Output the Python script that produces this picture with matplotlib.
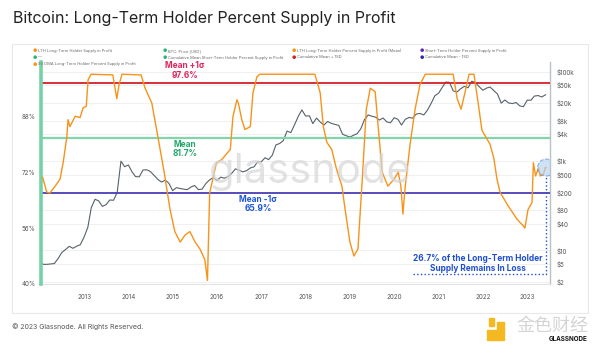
import matplotlib.pyplot as plt
from matplotlib.patches import Rectangle
from matplotlib.ticker import NullLocator
import pandas as pd

plt.rcParams['font.family'] = ['Inter', 'DejaVu Sans']

# BTC price, monthly (USD), Jan 2012 .. Jun 2023
price_months = pd.date_range('2012-01-01', '2023-06-01', freq='MS')
btc_price = [
    5.5, 4.9, 4.9, 5.0, 5.1, 6.6, 9.0, 10.5, 12.4, 11.2, 12.5, 13.5,
    20, 33, 90, 140, 129, 97, 106, 135, 133, 200, 1000, 750,
    820, 570, 450, 445, 630, 640, 585, 480, 390, 340, 375, 320,
    218, 255, 245, 236, 230, 263, 285, 230, 237, 314, 378, 430,
    370, 437, 416, 448, 530, 670, 625, 575, 610, 700, 742, 960,
    970, 1190, 1080, 1350, 2300, 2480, 2880, 4700, 4340, 6450, 10000, 14000,
    10200, 10300, 6900, 9200, 7500, 6400, 7700, 7000, 6600, 6300, 4000, 3700,
    3450, 3800, 4100, 5300, 8500, 10800, 10100, 9600, 8300, 9200, 7550, 7200,
    9350, 8600, 6400, 8600, 9450, 9150, 11300, 11650, 10800, 13800, 19700, 29000,
    33100, 45200, 58800, 57700, 37300, 35000, 41500, 47100, 43800, 61300, 57000, 46300,
    38500, 43200, 45500, 37700, 31800, 19800, 23300, 20000, 19400, 20500, 17200, 16500,
    23100, 23100, 28500, 29300, 27200, 30500,
]

# Long-term holder percent supply in profit (%)
lth_dates = [
    '2012-01-26', '2012-02-28', '2012-03-25', '2012-05-08', '2012-06-17', '2012-07-13',
    '2012-08-11', '2012-08-22', '2012-09-06', '2012-10-20', '2012-11-29', '2012-12-24',
    '2013-01-19', '2013-02-03', '2013-02-28', '2013-08-26', '2013-09-13', '2013-09-28',
    '2013-10-16', '2013-11-10', '2014-04-16', '2014-05-19', '2014-07-13', '2014-09-02',
    '2014-10-23', '2014-12-10', '2015-01-19', '2015-03-04', '2015-04-13', '2015-05-23',
    '2015-07-05', '2015-08-14', '2015-09-23', '2015-10-15', '2015-11-02', '2015-12-28',
    '2016-02-10', '2016-04-20', '2016-05-12', '2016-06-14', '2016-06-25', '2016-07-24',
    '2016-08-19', '2016-10-02', '2016-10-24', '2016-11-26', '2016-12-20', '2018-03-18',
    '2018-05-01', '2018-05-27', '2018-06-25', '2018-08-04', '2018-09-13', '2018-10-27',
    '2018-11-22', '2019-01-01', '2019-02-03', '2019-03-08', '2019-04-13', '2019-05-16',
    '2019-06-18', '2019-07-28', '2019-08-22', '2019-09-24', '2019-11-10', '2020-01-01',
    '2020-02-03', '2020-02-25', '2020-03-13', '2020-03-22', '2020-04-01', '2020-05-11',
    '2020-06-21', '2020-07-31', '2020-09-13', '2021-05-01', '2021-06-03', '2021-07-05',
    '2021-08-08', '2021-09-09', '2021-10-19', '2021-11-22', '2021-12-24', '2022-01-26',
    '2022-02-28', '2022-04-01', '2022-04-27', '2022-05-23', '2022-07-27', '2022-10-08',
    '2022-11-28', '2022-12-13', '2023-01-08', '2023-02-10', '2023-02-21', '2023-03-11',
    '2023-04-05', '2023-04-19', '2023-05-15', '2023-05-30', '2023-06-06',
]
lth_profit = [
    70.5, 66.3, 66.0, 68.0, 70.0, 74.8,
    81.9, 87.0, 85.0, 88.0, 87.6, 90.4,
    90.8, 98.4, 100.0, 99.8, 96.0, 93.0,
    97.0, 100.0, 99.8, 96.0, 91.8, 82.0,
    72.0, 61.4, 55.0, 52.0, 54.0, 55.0,
    52.0, 50.0, 47.0, 41.0, 66.0, 74.7,
    75.6, 78.5, 87.9, 92.7, 91.8, 87.0,
    84.2, 85.0, 94.7, 99.3, 100.0, 100.0,
    94.7, 85.0, 80.5, 78.5, 72.8, 68.0,
    61.4, 52.0, 48.0, 50.0, 70.0, 90.0,
    96.0, 95.0, 85.0, 72.0, 68.0, 70.0,
    72.0, 68.0, 60.0, 64.0, 68.0, 80.0,
    90.0, 97.0, 100.0, 100.0, 93.0, 90.0,
    95.0, 100.0, 100.0, 92.0, 84.0, 82.0,
    80.0, 76.0, 70.0, 66.2, 62.4, 58.6,
    56.7, 56.0, 61.3, 63.3, 74.7, 70.9,
    73.3, 70.9, 71.4, 73.3, 73.3,
]

mean_plus_sd = 97.6
mean_level = 81.7
mean_minus_sd = 65.9
supply_in_loss = 26.7

pct_ticks = [40, 56, 72, 88]
price_ticks = [2, 5, 10, 40, 80, 200, 500, 1000, 4000, 8000, 20000, 50000, 100000]
price_labels = ['$2', '$5', '$10', '$40', '$80', '$200', '$500', '$1k', '$4k', '$8k',
                '$20k', '$50k', '$100k']
years = list(range(2013, 2024))

legend_items = [
    ('#f7931a', 'LTH Long-Term Holder Supply in Profit'),
    ('#2bb673', 'BTC: Price [USD]'),
    ('#f7931a', 'LTH Long-Term Holder Percent Supply in Profit (Mean)'),
    ('#5b2bb5', 'Short-Term Holder Percent Supply in Profit'),
    ('#2bb673', '—'),
    ('#2bb673', 'Cumulative Mean Short-Term Holder Percent Supply in Profit'),
    ('#d41f26', 'Cumulative Mean + 1SD'),
    ('#2a2aa8', 'Cumulative Mean - 1SD'),
    ('#f7931a', '90 DMA Long-Term Holder Percent Supply in Profit'),
]

W, H = 600, 345
fig = plt.figure(figsize=(W / 100, H / 100), dpi=100)


def fx(px):
    return px / W


def fy(py):
    return 1 - py / H


# panel frame
fig.patches.append(Rectangle((fx(12), fy(313)), fx(588) - fx(12), fy(44) - fy(313),
                             transform=fig.transFigure, fill=False,
                             edgecolor='#e8e8e8', lw=0.8))

L, R, T, B = 41, 550, 62, 284
ax = fig.add_axes([fx(L), fy(B), fx(R) - fx(L), fy(T) - fy(B)])
ax2 = ax.twinx()

# price (right axis, log)
ax.plot(price_months, btc_price, color='#55626a', lw=0.8)
ax.set_yscale('log')
ax.set_ylim(1.78, 165000)
ax.yaxis.tick_right()
ax.set_yticks(price_ticks)
ax.set_yticklabels(price_labels)
ax.yaxis.set_minor_locator(NullLocator())
ax.tick_params(axis='y', which='both', left=False, labelleft=False, right=False,
               labelright=True, length=0, labelsize=4.5, colors='#555555', pad=5)
ax.set_xlim(pd.Timestamp('2012-01-12'), pd.Timestamp('2023-07-08'))
ax.set_xticks([pd.Timestamp(f'{y}-01-01') for y in years])
ax.set_xticklabels([str(y) for y in years])
ax.tick_params(axis='x', length=0, labelsize=4.5, colors='#555555', pad=7)
ax.grid(axis='y', color='#eeeeee', lw=0.6)
ax.set_axisbelow(True)
for s in ['top', 'left']:
    ax.spines[s].set_visible(False)
ax.spines['right'].set_color('#b9c0c6')
ax.spines['right'].set_linewidth(1.0)
ax.spines['bottom'].set_color('#e3e3e3')
ax.spines['bottom'].set_linewidth(0.8)

# percent (left axis)
ax2.set_ylim(40.3, 103.5)
ax2.set_yticks(pct_ticks)
ax2.set_yticklabels([f'{t}%' for t in pct_ticks])
ax2.tick_params(axis='y', left=False, labelleft=True, right=False, labelright=False,
                length=0, labelsize=4.5, colors='#555555', pad=4)
for s in ['top', 'right', 'bottom']:
    ax2.spines[s].set_visible(False)
ax2.spines['left'].set_visible(True)
ax2.spines['left'].set_color('#74d3a6')
ax2.spines['left'].set_linewidth(2.6)

ax2.axhline(mean_plus_sd, color='#d41f26', lw=1.3, zorder=2)
ax2.axhline(mean_level, color='#80d6ab', lw=1.6, zorder=2)
ax2.axhline(mean_minus_sd, color='#4a3fb5', lw=1.3, zorder=2)

lth_dt = pd.to_datetime(lth_dates)
ax2.plot(lth_dt, lth_profit, color='#f7931a', lw=1.0, zorder=3)

# highlight of the latest value
last_dt, last_val = lth_dt[-1], lth_profit[-1]
ax2.scatter([last_dt], [last_val], s=150, facecolor='#b5d3f2', alpha=0.65,
            edgecolor='#5a8fd8', linestyle='--', lw=0.8, zorder=4)
ax2.plot([pd.Timestamp('2020-06-05'), last_dt, last_dt], [43.0, 43.0, last_val - 2.5],
         ls=':', color='#1f4fd1', lw=1.0, zorder=4)

# annotations
fig.text(fx(185), fy(70.5), f'Mean +1σ\n{mean_plus_sd}%', color='#e2245c', fontsize=6,
         fontweight='bold', ha='center', va='center', linespacing=1.1)
fig.text(fx(185), fy(149), f'Mean\n{mean_level}%', color='#22a86a', fontsize=6,
         fontweight='bold', ha='center', va='center', linespacing=1.1)
fig.text(fx(258), fy(204), f'Mean -1σ\n{mean_minus_sd}%', color='#1e56d9', fontsize=6,
         fontweight='bold', ha='center', va='center', linespacing=1.1)
fig.text(fx(478), fy(263.5), f'{supply_in_loss}% of the Long-Term Holder\nSupply Remains In Loss',
         color='#1f4fd1', fontsize=6, fontweight='bold', ha='center', va='center',
         linespacing=1.2)

# watermark
fig.text(fx(310), fy(172), 'glassnode', color='#d6d6d6', fontsize=30, alpha=0.7,
         ha='center', va='center', zorder=0)

# title and legend
fig.text(fx(13), fy(18), 'Bitcoin: Long-Term Holder Percent Supply in Profit',
         fontsize=11.5, color='#222222', ha='left', va='center')
col_x = [33, 163, 292, 420]
row_y = [51, 57.5, 64]
for i, (c, lab) in enumerate(legend_items):
    px = col_x[i % 4]
    py = row_y[i // 4]
    fig.text(fx(px), fy(py), '●', color=c, fontsize=3.5, ha='left', va='center')
    fig.text(fx(px + 5), fy(py), lab, color='#666666', fontsize=2.9, ha='left', va='center')

# footer
fig.text(fx(12), fy(327), '© 2023 Glassnode. All Rights Reserved.', fontsize=5,
         color='#555555', ha='left', va='center')
fig.patches.append(Rectangle((fx(487), fy(340)), fx(504) - fx(487), fy(330) - fy(340),
                             transform=fig.transFigure, color='#f5b820'))
fig.patches.append(Rectangle((fx(497), fy(330)), fx(504) - fx(497), fy(322) - fy(330),
                             transform=fig.transFigure, color='#f5b820'))
fig.patches.append(Rectangle((fx(489), fy(326)), fx(494) - fx(489), fy(318) - fy(326),
                             transform=fig.transFigure, color='#f5b820'))
fig.text(fx(552), fy(326), '金色财经', family=['Noto Sans CJK SC', 'DejaVu Sans'],
         fontsize=13, color='#d4d4d4', ha='center', va='center')
fig.text(fx(568), fy(339), 'GLASSNODE', fontsize=4.5, color='#111111', fontweight='bold',
         ha='center', va='center')

fig.savefig('out.png', dpi=100)
